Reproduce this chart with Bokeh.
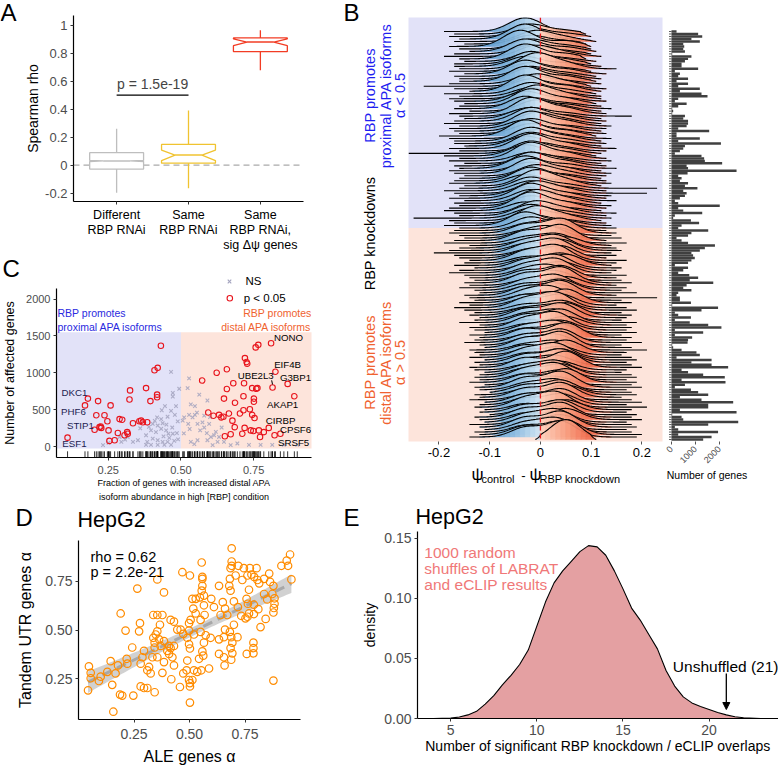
import math
import numpy as np
from bokeh.plotting import figure
from bokeh.layouts import row, column
from bokeh.models import Label, Span, Arrow, NormalHead, NumeralTickFormatter
from bokeh.embed import file_html
from bokeh.resources import INLINE

FONT = "Liberation Sans"

# ---------------- Panel A data ----------------
A_GROUPS = ["Different\nRBP RNAi", "Same\nRBP RNAi", "Same\nRBP RNAi,\nsig \u0394\u03c8 genes"]
A_WHISK_LO = [-0.197, -0.166, 0.678]
A_Q1 = [-0.028, 0.014, 0.812]
A_NOTCH_LO = [0.026, 0.033, 0.854]
A_MEDIAN = [0.030, 0.072, 0.880]
A_NOTCH_HI = [0.034, 0.108, 0.903]
A_Q3 = [0.089, 0.148, 0.910]
A_WHISK_HI = [0.260, 0.390, 0.965]
A_SIG_GROUPS = [1, 2]
A_SIG_Y = 0.5
A_SIG_TEXT = "p = 1.5e-19"
A_YTICKS = [-0.2, 0, 0.2, 0.4, 0.6, 0.8, 1]
A_YTICK_LABELS = ["-0.2", "0", "0.2", "0.4", "0.6", "0.8", "1"]

# ---------------- Panel B data (rows listed top -> bottom) ----------------
N_PROX = 80  # rows with alpha < 0.5 (top block)
RIDGE_LO_PCT = [
    -19, -17, -18, -16, -17, -15, -18, -16, -14, -17, -19, -16, -15, -17, -17, -16, -18, -15, -17, -16,
    -16, -18, -23, -17, -14, -19, -16, -18, -17, -15, -16, -17, -14, -18, -16, -15, -17, -19, -16, -18,
    -17, -16, -20, -18, -17, -17, -15, -18, -16, -26, -19, -16, -18, -15, -17, -16, -18, -17, -15, -16,
    -17, -18, -15, -16, -19, -17, -16, -18, -15, -17, -16, -18, -19, -17, -16, -25, -18, -17, -19, -16,
    -17, -18, -16, -15, -17, -19, -14, -16, -18, -21, -17, -16, -14, -15, -17, -13, -16, -18, -15, -14,
    -13, -15, -14, -16, -13, -12, -15, -14, -13, -16, -14, -17, -15, -13, -14, -12, -13, -16, -12, -14,
    -13, -11, -14, -12, -13, -15, -12, -11, -14, -13, -12, -14, -11, -13, -12, -14, -13, -11, -12, -13,
    -12, -14, -11, -13, -12, -10, -13, -12, -14, -11, -12, -13, -11, -12, -10, -13, -12, -11, -14, -12,
    -11, -13, -12, -14, -1]
RIDGE_HI_PCT = [
    8, 9, 10, 8, 11, 9, 10, 10, 11, 10, 12, 9, 11, 10, 12, 15, 10, 13, 11, 12,
    11, 12, 10, 13, 12, 11, 12, 12, 13, 11, 12, 14, 12, 13, 18, 12, 13, 12, 14, 13,
    12, 13, 11, 14, 12, 13, 12, 15, 13, 12, 11, 13, 14, 12, 13, 15, 12, 14, 13, 12,
    13, 14, 12, 23, 13, 21, 14, 13, 15, 12, 14, 13, 12, 15, 13, 14, 12, 13, 14, 15,
    13, 15, 14, 16, 13, 17, 14, 15, 16, 14, 15, 13, 17, 15, 14, 16, 15, 14, 17, 15,
    16, 18, 15, 17, 16, 19, 15, 23, 16, 18, 15, 17, 19, 16, 18, 17, 16, 19, 17, 18,
    17, 19, 16, 18, 17, 20, 16, 18, 21, 17, 16, 18, 19, 17, 18, 20, 17, 16, 18, 19,
    17, 19, 18, 20, 17, 18, 19, 16, 18, 20, 17, 21, 18, 17, 19, 18, 20, 17, 18, 19,
    17, 18, 20, 19, 11]
RIDGE_MODE_PCT = [
    -3, -2, -2, -3, -1, -2, -4, -2, -3, -2, -1, -3, -2, -2, -3, -1, -2, -3, -2, -2,
    -3, -2, -1, -2, -3, -2, -2, -1, -3, -2, -2, -3, -1, -2, -2, -3, -2, -1, -2, -3,
    -2, -2, -3, -1, -2, -2, -3, -2, -1, -2, -3, -2, -2, -1, -2, -3, -2, -2, -1, -2,
    -2, -3, -1, -2, -2, -1, -3, -2, -2, -1, -2, -2, -3, -1, -2, -2, -1, -2, -3, -2,
    3, 4, 3, 2, 4, 3, 5, 3, 4, 3, 2, 4, 3, 4, 5, 3, 4, 3, 2, 4,
    3, 4, 5, 3, 4, 3, 4, 2, 3, 5, 4, 3, 4, 3, 5, 4, 3, 4, 5, 3,
    4, 3, 4, 5, 3, 4, 3, 4, 3, 5, 4, 3, 4, 4, 3, 5, 4, 3, 4, 3,
    4, 5, 3, 4, 3, 4, 5, 4, 3, 4, 4, 3, 5, 4, 3, 4, 5, 3, 4, 4,
    3, 4, 5, 4, 5]
RIDGE_HEIGHT = [
    5.5, 4.0, 3.5, 6.0, 4.5, 3.5, 6.5, 4.0, 5.0, 3.5, 4.5, 6.0, 3.5, 5.0, 4.0, 6.5, 3.5, 5.5, 4.0, 4.5,
    6.0, 3.5, 5.0, 4.0, 6.5, 4.5, 3.5, 5.5, 4.0, 6.0, 3.5, 5.0, 4.5, 6.5, 3.5, 4.0, 5.5, 4.5, 6.0, 3.5,
    5.0, 4.0, 6.5, 3.5, 5.5, 4.5, 4.0, 6.0, 3.5, 5.0, 4.5, 6.5, 3.5, 4.0, 5.5, 5.0, 3.5, 6.0, 4.5, 4.0,
    5.5, 3.5, 6.5, 4.5, 4.0, 5.0, 3.5, 6.0, 4.5, 5.5, 4.0, 6.5, 3.5, 5.0, 4.5, 4.0, 6.0, 3.5, 5.5, 4.5,
    4.5, 6.0, 3.5, 5.0, 6.5, 4.0, 3.5, 5.5, 4.5, 6.0, 3.5, 5.0, 6.5, 4.0, 4.5, 5.5, 3.5, 6.0, 4.5, 5.0,
    4.0, 6.5, 3.5, 5.5, 4.5, 4.0, 6.0, 5.0, 3.5, 5.5, 4.5, 6.5, 4.0, 3.5, 5.0, 6.0, 4.5, 5.5, 3.5, 6.5,
    4.0, 5.0, 4.5, 6.0, 3.5, 5.5, 4.5, 6.5, 4.0, 5.0, 3.5, 6.0, 4.5, 5.5, 4.0, 6.5, 3.5, 5.0, 4.5, 6.0,
    4.0, 5.5, 3.5, 6.5, 4.5, 5.0, 4.0, 6.0, 3.5, 5.5, 4.5, 6.5, 4.0, 5.0, 3.5, 6.0, 4.5, 5.5, 4.0, 6.5,
    5.0, 4.5, 6.0, 6.5, 8.0]
GENE_COUNTS = [
    210, 1110, 1280, 830, 1180, 490, 530, 490, 560, 30, 830, 690, 560, 420, 420, 1110, 140, 350, 280, 690,
    210, 690, 280, 1180, 350, 1250, 1500, 280, 140, 630, 280, 30, 70, 30, 560, 490, 690, 690, 630, 280,
    1570, 210, 210, 1180, 280, 2060, 560, 490, 350, 140, 1250, 1360, 1390, 2110, 630, 690,
    2710, 670, 280, 420, 350, 690, 560, 1080, 490, 630, 560, 350, 140, 280, 2010, 280, 490, 1280, 140, 70,
    810, 1150, 420, 280, 1530, 830, 690, 210, 420, 690, 1810, 1390, 1180, 830, 900, 970, 830, 690, 140, 690,
    490, 280, 740, 1110, 760, 1740, 630, 490, 830, 280, 210, 350, 350, 810, 30, 1940,
    1250, 140, 280, 810, 140, 760, 1530, 2080, 140, 1320, 140, 860, 690, 670, 30, 70, 420, 1040, 1180, 210,
    1670, 830, 1670, 2360, 420, 690, 1320, 2220, 420, 2250, 560, 140, 810, 1110, 1530, 350, 1250, 2570, 1530, 1530,
    350, 2710, 30, 420, 490, 2780, 1530, 140, 280, 1940, 280, 1670, 1320]
B_XTICKS = [-0.2, -0.1, 0, 0.1, 0.2]
B_XTICK_LABELS = ["-0.2", "-0.1", "0", "0.1", "0.2"]
H_XTICKS = [0, 1000, 2000]

# ---------------- Panel C data ----------------
C_SIG_X = [0.431, 0.409, 0.420, 0.325, 0.380, 0.418, 0.418, 0.395, 0.323, 0.180,
           0.215, 0.258, 0.209, 0.237, 0.289, 0.298, 0.247, 0.335, 0.357, 0.363,
           0.369, 0.384, 0.224, 0.226, 0.220, 0.203, 0.251, 0.283, 0.315, 0.317,
           0.306, 0.254, 0.272, 0.110, 0.170,
           0.810, 0.766, 0.757, 0.720, 0.726, 0.728, 0.658, 0.623, 0.573, 0.825,
           0.680, 0.717, 0.745, 0.759, 0.763, 0.815, 0.867, 0.658, 0.715, 0.751,
           0.751, 0.686, 0.648, 0.890, 0.594, 0.612, 0.631, 0.639, 0.646, 0.665,
           0.677, 0.703, 0.715, 0.745, 0.737, 0.753, 0.685, 0.719, 0.740, 0.749,
           0.768, 0.785, 0.802, 0.842, 0.822, 0.711, 0.671, 0.651, 0.772]
C_SIG_Y = [1367, 1036, 1068, 763, 794, 705, 670, 618, 639, 652,
           618, 560, 427, 427, 374, 366, 344, 318, 344, 353,
           331, 331, 274, 255, 265, 229, 221, 185, 198, 176,
           155, 79, 88, 123, 560,
           1402, 1380, 1345, 1200, 1147, 1125, 1049, 1001, 896, 1015,
           860, 860, 794, 785, 794, 803, 851, 781, 684, 652,
           609, 595, 652, 684, 463, 419, 432, 397, 406, 450,
           353, 450, 494, 432, 507, 388, 265, 255, 221, 212,
           221, 198, 255, 176, 155, 176, 168, 141, 132]
C_NS_X = [0.494, 0.472, 0.472, 0.445, 0.483, 0.434, 0.466, 0.418, 0.432, 0.454,
          0.479, 0.489, 0.403, 0.420, 0.437, 0.397, 0.414, 0.432, 0.449, 0.457,
          0.472, 0.486, 0.403, 0.420, 0.437, 0.454, 0.477, 0.380, 0.384, 0.352,
          0.335, 0.317, 0.308, 0.289, 0.232, 0.251, 0.295, 0.380, 0.397, 0.420,
          0.443, 0.466, 0.466, 0.360, 0.390, 0.450, 0.470, 0.410, 0.440, 0.460,
          0.528, 0.523, 0.534, 0.548, 0.555, 0.548, 0.540, 0.528, 0.511, 0.506,
          0.525, 0.557, 0.574, 0.597, 0.566, 0.589, 0.603, 0.614, 0.631, 0.591,
          0.626, 0.609, 0.557, 0.534, 0.546, 0.648, 0.671, 0.694, 0.734, 0.774,
          0.814, 0.854, 0.900, 0.563, 0.591, 0.490, 0.510, 0.530, 0.580, 0.620,
          0.600, 0.580, 0.640]
C_NS_Y = [785, 728, 680, 551, 551, 494, 485, 397, 375, 406,
          432, 344, 309, 287, 318, 221, 198, 243, 221, 176,
          176, 185, 110, 88, 66, 66, 79, 155, 66, 88,
          66, 132, 97, 132, 22, 53, 66, 26, 26, 26,
          26, 26, 1015, 250, 270, 300, 260, 350, 140, 120,
          926, 794, 573, 551, 463, 432, 397, 432, 397, 353,
          309, 309, 331, 309, 221, 185, 132, 155, 132, 88,
          66, 22, 88, 66, 35, 66, 22, 44, 26, 26,
          26, 26, 26, 705, 626, 100, 180, 240, 260, 200,
          400, 420, 260]
C_ALPHA_SPLIT = 0.5
C_SHADE_TOP = 1550
C_YTICKS = [0, 500, 1000, 1500, 2000]
C_XTICKS = [0.25, 0.5, 0.75]
# gene label: (name, point x, point y)
C_GENES_RIGHT = [("NONO", 0.810, 1402), ("EIF4B", 0.825, 1015), ("UBE2L3", 0.815, 803),
                 ("G3BP1", 0.867, 851), ("AKAP1", 0.890, 684), ("CIRBP", 0.802, 255),
                 ("CPSF6", 0.842, 176), ("SRSF5", 0.822, 155)]
C_GENES_LEFT = [("DKC1", 0.180, 652), ("PHF6", 0.170, 560), ("STIP1", 0.224, 265), ("ESF1", 0.110, 123)]

# ---------------- Panel D data ----------------
D_ALE = [0.690, 0.953, 0.938, 0.944, 0.914, 0.959, 0.690, 0.690, 0.685, 0.720,
         0.745, 0.772, 0.802, 0.708, 0.682, 0.679, 0.685, 0.738, 0.761, 0.779,
         0.791, 0.806, 0.814, 0.836, 0.859, 0.863, 0.878, 0.873, 0.850, 0.883,
         0.836, 0.883, 0.880, 0.878, 0.843, 0.790, 0.768, 0.757, 0.763, 0.810,
         0.820, 0.768, 0.761, 0.752, 0.790, 0.758, 0.788, 0.788, 0.788, 0.878,
         0.733, 0.718, 0.700, 0.700, 0.716, 0.682, 0.688, 0.693, 0.685, 0.693,
         0.688, 0.670, 0.660, 0.655, 0.640, 0.660, 0.650, 0.655, 0.633, 0.658,
         0.633, 0.595, 0.633, 0.565, 0.568, 0.550, 0.550, 0.573, 0.565, 0.558,
         0.562, 0.543, 0.490, 0.520, 0.513, 0.520, 0.490, 0.558, 0.558, 0.555,
         0.558, 0.555, 0.547, 0.565, 0.513, 0.528, 0.517, 0.528, 0.498, 0.498,
         0.505, 0.468, 0.502, 0.460, 0.430, 0.445, 0.472, 0.415, 0.385, 0.355,
         0.265, 0.378, 0.355, 0.337, 0.367, 0.355, 0.348, 0.337, 0.343, 0.363,
         0.385, 0.408, 0.400, 0.408, 0.415, 0.430, 0.423, 0.370, 0.343, 0.355,
         0.333, 0.378, 0.418, 0.457, 0.385, 0.430, 0.318, 0.325, 0.310, 0.288,
         0.280, 0.295, 0.242, 0.273, 0.277, 0.190, 0.212, 0.217, 0.220, 0.178,
         0.167, 0.130, 0.055, 0.100, 0.043, 0.055, 0.047, 0.092, 0.145, 0.152,
         0.197, 0.247, 0.280, 0.295, 0.310, 0.343, 0.157, 0.187, 0.498, 0.502,
         0.502, 0.502, 0.472, 0.487, 0.535, 0.553, 0.588, 0.498, 0.502, 0.598,
         0.610]
D_TANDEM = [0.920, 0.888, 0.857, 0.830, 0.830, 0.760, 0.852, 0.830, 0.818, 0.830,
            0.818, 0.818, 0.818, 0.780, 0.763, 0.727, 0.702, 0.757, 0.780, 0.785,
            0.773, 0.757, 0.740, 0.763, 0.790, 0.747, 0.727, 0.685, 0.657, 0.663,
            0.685, 0.635, 0.613, 0.590, 0.557, 0.630, 0.707, 0.660, 0.635, 0.607,
            0.515, 0.585, 0.568, 0.560, 0.582, 0.377, 0.435, 0.407, 0.380, 0.240,
            0.573, 0.618, 0.647, 0.527, 0.463, 0.490, 0.463, 0.435, 0.407, 0.380,
            0.347, 0.577, 0.502, 0.463, 0.577, 0.610, 0.643, 0.360, 0.377, 0.318,
            0.452, 0.460, 0.727, 0.627, 0.577, 0.552, 0.490, 0.473, 0.435, 0.390,
            0.368, 0.352, 0.343, 0.293, 0.243, 0.477, 0.460, 0.773, 0.763, 0.847,
            0.727, 0.702, 0.668, 0.677, 0.660, 0.660, 0.610, 0.585, 0.535, 0.497,
            0.552, 0.797, 0.780, 0.502, 0.543, 0.502, 0.480, 0.552, 0.693, 0.760,
            0.713, 0.577, 0.577, 0.577, 0.527, 0.493, 0.477, 0.460, 0.435, 0.452,
            0.443, 0.418, 0.393, 0.377, 0.407, 0.418, 0.360, 0.418, 0.410, 0.360,
            0.360, 0.280, 0.247, 0.207, 0.335, 0.318, 0.310, 0.277, 0.293, 0.360,
            0.327, 0.393, 0.410, 0.493, 0.535, 0.585, 0.497, 0.352, 0.327, 0.318,
            0.277, 0.285, 0.280, 0.260, 0.190, 0.252, 0.313, 0.238, 0.340, 0.218,
            0.163, 0.163, 0.210, 0.202, 0.202, 0.180, 0.080, 0.168, 0.243, 0.227,
            0.210, 0.127, 0.277, 0.293, 0.285, 0.293, 0.302, 0.427, 0.405, 0.660,
            0.618]
D_TICKS = [0.25, 0.5, 0.75]
D_STATS = ["rho = 0.62", "p = 2.2e-21"]

# ---------------- Panel E data ----------------
E_X = [4.0, 5.0, 5.5, 6.0, 6.5, 7.0, 7.5, 8.0, 8.5, 9.0, 9.5, 10.0, 10.5, 11.0, 11.5, 12.0, 12.5,
       13.0, 13.5, 14.0, 14.5, 15.0, 15.5, 16.0, 16.5, 17.0, 17.5, 18.0, 18.5, 19.0, 19.5, 20.0,
       20.5, 21.0, 21.5, 22.0, 23.0]
E_DENSITY = [0.0, 0.0003, 0.0012, 0.003, 0.006, 0.012, 0.019, 0.028, 0.036, 0.045, 0.057, 0.077,
             0.097, 0.113, 0.123, 0.131, 0.139, 0.144, 0.143, 0.136, 0.123, 0.108, 0.092, 0.082,
             0.070, 0.058, 0.040, 0.027, 0.018, 0.013, 0.010, 0.0075, 0.005, 0.003, 0.0015, 0.0006, 0.0]
E_UNSHUFFLED = 21
E_XTICKS = [5, 10, 15, 20]
E_YTICKS = [0, 0.05, 0.10, 0.15]


# ---------------- layout helpers (all boxes in page pixels) ----------------
def make_fig(fig_box, frame_box, xr, yr, x_axis="below", y_axis="left"):
    fl, ft, fr, fb = fig_box
    l, t, r, b = frame_box
    p = figure(width=fr - fl, height=fb - ft, x_range=xr, y_range=yr,
               output_backend="svg", toolbar_location=None,
               x_axis_location=x_axis, y_axis_location=y_axis,
               min_border_left=l - fl, min_border_right=fr - r,
               min_border_top=t - ft, min_border_bottom=fb - b)
    if "frame_align" in p.properties():
        p.frame_align = False
    p.outline_line_color = None
    p.xgrid.visible = False
    p.ygrid.visible = False
    p.background_fill_color = "white"
    p.border_fill_color = "white"

    def to_data(x, y):
        dx = xr[0] + (x - l) / (r - l) * (xr[1] - xr[0])
        dy = yr[1] - (y - t) / (b - t) * (yr[1] - yr[0])
        return dx, dy
    return p, to_data


def text_fig(box):
    fl, ft, fr, fb = box
    return make_fig(box, box, (fl, fr), (fb, ft), x_axis=None, y_axis=None)


def label(p, m, x, y, text, size, color="black", align="left", baseline="middle", angle=0.0):
    dx, dy = m(x, y)
    p.add_layout(Label(x=dx, y=dy, text=text, text_font=FONT, text_font_size=f"{size}px",
                       text_color=color, text_align=align, text_baseline=baseline, angle=angle))


def letter(p, m, x, y, text):
    label(p, m, x, y, text, 24)


def style_axes(p, tick_px, label_px, tick_color="#4D4D4D", line=True):
    for ax in p.axis:
        ax.axis_line_color = "black" if line else None
        ax.axis_line_width = 1.2
        ax.major_tick_line_color = "#333333"
        ax.major_tick_out = 3
        ax.major_tick_in = 0
        ax.minor_tick_line_color = None
        ax.major_label_text_font = FONT
        ax.major_label_text_font_size = f"{tick_px}px"
        ax.major_label_text_color = tick_color
        ax.major_label_standoff = 3
        ax.axis_label_text_font = FONT
        ax.axis_label_text_font_size = f"{label_px}px"
        ax.axis_label_text_font_style = "normal"
        ax.axis_label_text_color = "black"
        ax.axis_label_standoff = 4


# ================= Panel A =================
sA, tA = text_fig((0, 0, 22, 255))
letter(sA, tA, 0, 12, "A")
pA, mA = make_fig((22, 0, 340, 255), (70, 15, 303, 204), (0.4, 3.6), (-0.26, 1.07))
style_axes(pA, 13, 14)
pA.yaxis.axis_label_standoff = 1
pA.xaxis.ticker = [1, 2, 3]
pA.xaxis.major_label_overrides = {i + 1: g for i, g in enumerate(A_GROUPS)}
pA.xaxis.major_label_text_color = "black"
pA.xaxis.major_label_text_font_size = "12.5px"
pA.xaxis.major_label_text_line_height = 1.1
pA.yaxis.ticker = A_YTICKS
pA.yaxis.major_label_overrides = dict(zip(A_YTICKS, A_YTICK_LABELS))
pA.yaxis.axis_label = "Spearman rho"
pA.add_layout(Span(location=0, dimension="width", line_color="#AAAAAA", line_dash="6 4",
                   line_width=1.2, level="underlay"))
A_COLORS = ["#BEBEBE", "#F0C330", "#F23C24"]
half_w, notch_w = 0.375, 0.5
for i in range(3):
    xc = i + 1
    xs = [xc - half_w, xc - half_w, xc - half_w * notch_w, xc - half_w, xc - half_w,
          xc + half_w, xc + half_w, xc + half_w * notch_w, xc + half_w, xc + half_w]
    ys = [A_Q1[i], A_NOTCH_LO[i], A_MEDIAN[i], A_NOTCH_HI[i], A_Q3[i],
          A_Q3[i], A_NOTCH_HI[i], A_MEDIAN[i], A_NOTCH_LO[i], A_Q1[i]]
    pA.patch(xs, ys, fill_color="white", line_color=A_COLORS[i], line_width=1.3)
    pA.segment(x0=[xc, xc], y0=[A_Q3[i], A_WHISK_LO[i]], x1=[xc, xc], y1=[A_WHISK_HI[i], A_Q1[i]],
               line_color=A_COLORS[i], line_width=1.3)
    pA.segment(x0=[xc - half_w * notch_w], y0=[A_MEDIAN[i]], x1=[xc + half_w * notch_w], y1=[A_MEDIAN[i]],
               line_color=A_COLORS[i], line_width=1.6)
pA.segment(x0=[A_SIG_GROUPS[0]], y0=[A_SIG_Y], x1=[A_SIG_GROUPS[1]], y1=[A_SIG_Y], line_color="black", line_width=1.2)
pA.add_layout(Label(x=sum(A_SIG_GROUPS) / 2, y=A_SIG_Y + 0.025, text=A_SIG_TEXT, text_font=FONT,
                    text_font_size="14px", text_align="center", text_baseline="bottom"))

# ================= Panel C =================
sC, tC = text_fig((0, 255, 340, 288))
letter(sC, tC, 2, 268, "C")
sC.scatter([229], [281], marker="x", size=5, line_color="#A3A3BE", line_width=1.1)
label(sC, tC, 245, 280.5, "NS", 11.5)
C_YR = (-146, 2143)
pC, mC = make_fig((0, 288, 340, 505), (55, 288, 311, 461), (0.072, 0.949), C_YR)
style_axes(pC, 11, 12.5)
pC.yaxis.axis_label_standoff = 6
pC.xaxis.major_label_standoff = 5
pC.xaxis.ticker = C_XTICKS
pC.xaxis.formatter = NumeralTickFormatter(format="0.00")
pC.yaxis.ticker = C_YTICKS
pC.yaxis.axis_label = "Number of affected genes"
pC.xaxis.axis_label = "Fraction of genes with increased distal APA\nisoform abundance in high [RBP] condition"
pC.xaxis.axis_label_text_font_size = "9px"
pC.xaxis.axis_label_text_line_height = 1.45
pC.xaxis.axis_label_standoff = 1
pC.quad(left=[-1], right=[C_ALPHA_SPLIT], bottom=[-25], top=[C_SHADE_TOP], fill_color="#E2E2F8", line_color=None)
pC.quad(left=[C_ALPHA_SPLIT], right=[2], bottom=[-25], top=[C_SHADE_TOP], fill_color="#FDE4DB", line_color=None)
all_x = C_SIG_X + C_NS_X
pC.segment(x0=all_x, y0=[C_YR[0]] * len(all_x), x1=all_x, y1=[-62] * len(all_x), line_color="black", line_width=0.8)
pC.scatter(C_NS_X, C_NS_Y, marker="x", size=5, line_color="#A3A3BE", line_width=1.1, line_alpha=0.85)
pC.scatter(C_SIG_X, C_SIG_Y, marker="circle", size=5.5, line_color="#E8141C", fill_color=None, line_width=1.1)
lx, ly2 = mC(229, 298)
pC.scatter([lx], [ly2], marker="circle", size=5.5, line_color="#E8141C", fill_color=None, line_width=1.1)
label(pC, mC, 243, 297.5, "p < 0.05", 11.5)
label(pC, mC, 56, 313, "RBP promotes", 10.5, color="#2A2AE0")
label(pC, mC, 56, 327, "proximal APA isoforms", 10.5, color="#2A2AE0")
label(pC, mC, 311, 313, "RBP promotes", 10.5, color="#F0622F", align="right")
label(pC, mC, 311, 327, "distal APA isoforms", 10.5, color="#F0622F", align="right")
gene_pos_right = {"NONO": (288, 338), "EIF4B": (287, 366), "UBE2L3": (255, 377), "G3BP1": (295, 379),
                  "AKAP1": (282, 407), "CIRBP": (280, 423), "CPSF6": (295, 432), "SRSF5": (293, 446)}
gene_pos_left = {"DKC1": (73, 394), "PHF6": (72, 414), "STIP1": (79, 428), "ESF1": (73, 447)}
for name, gx, gy in C_GENES_RIGHT:
    tx, ty = gene_pos_right[name]
    label(pC, mC, tx, ty, name, 9.7, color="black", align="center")
for name, gx, gy in C_GENES_LEFT:
    tx, ty = gene_pos_left[name]
    label(pC, mC, tx, ty, name, 9.7, color="#1C1C50", align="center")
ux, uy = mC(271, 382)
pC.segment(x0=[ux], y0=[uy], x1=[C_GENES_RIGHT[2][1]], y1=[C_GENES_RIGHT[2][2] + 40], line_color="black", line_width=1)

# ================= Panel B (ridges) =================
N = len(GENE_COUNTS)
B_YR = (0.196, 170.63)
sB, tB = text_fig((340, 0, 408, 505))
letter(sB, tB, 343, 11.5, "B")
BLUE, ORANGE = "#1F1FF0", "#F0622F"
for txt, xx in (("RBP promotes", 369), ("proximal APA isoforms", 385), ("\u03b1 < 0.5", 399)):
    label(sB, tB, xx, 95, txt, 14.5, color=BLUE, align="center", angle=math.pi / 2)
label(sB, tB, 369, 233, "RBP knockdowns", 14.5, align="center", angle=math.pi / 2)
for txt, xx in (("RBP promotes", 369), ("distal APA isoforms", 385), ("\u03b1 > 0.5", 399)):
    label(sB, tB, xx, 362, txt, 14.5, color=ORANGE, align="center", angle=math.pi / 2)

pB, mB = make_fig((408, 0, 665, 463), (408, 17, 662, 441), (-0.26, 0.2406), B_YR, y_axis=None)
style_axes(pB, 13, 12, tick_color="black", line=False)
pB.xaxis.ticker = B_XTICKS
pB.xaxis.major_label_overrides = dict(zip(B_XTICKS, B_XTICK_LABELS))
pB.xaxis.major_tick_line_color = "#555555"
boundary = N - N_PROX + 1
pB.quad(left=[-1], right=[1], bottom=[boundary], top=[200], fill_color="#E2E2F8", line_color=None)
pB.quad(left=[-1], right=[1], bottom=[-10], top=[boundary], fill_color="#FDE4DB", line_color=None)

PAL_X = [-0.25, -0.12, -0.05, -0.0001, 0.0001, 0.05, 0.10, 0.25]
PAL_C = ["#2C6AAE", "#4A8DC6", "#8DBCE0", "#D2E5F3", "#FDD3C0", "#F8A184", "#EF6B4B", "#D6281F"]


def hex2rgb(h):
    return tuple(int(h[k:k + 2], 16) for k in (1, 3, 5))


def pal_color(x):
    if x <= PAL_X[0]:
        return PAL_C[0]
    if x >= PAL_X[-1]:
        return PAL_C[-1]
    for j in range(len(PAL_X) - 1):
        if PAL_X[j] <= x <= PAL_X[j + 1]:
            t = (x - PAL_X[j]) / (PAL_X[j + 1] - PAL_X[j])
            c0, c1 = hex2rgb(PAL_C[j]), hex2rgb(PAL_C[j + 1])
            return "#%02x%02x%02x" % tuple(int(round(a + (b - a) * t)) for a, b in zip(c0, c1))


PROX_SD, PROX_BUMP = 0.032, (0.05, 0.03, 0.35)
DIST_SD, DIST_BUMP = 0.030, (-0.03, 0.028, 0.6)


def ridge_shape(x, lo, hi, m, prox):
    s, (bl, bs, bw) = (PROX_SD, PROX_BUMP) if prox else (DIST_SD, DIST_BUMP)
    f = np.exp(-0.5 * ((x - m) / s) ** 2)
    if lo < bl - 0.03 and hi > bl + 0.03:
        f = f + bw * np.exp(-0.5 * ((x - bl) / bs) ** 2)
    taper = np.clip(np.minimum(x - lo, hi - x) / 0.012, 0, 1)
    f = f * taper
    return f / f.max()


STRIP = 0.01
for i in range(N):
    lo, hi, md, h = RIDGE_LO_PCT[i] / 100, RIDGE_HI_PCT[i] / 100, RIDGE_MODE_PCT[i] / 100, RIDGE_HEIGHT[i]
    base = N - i
    xg = np.linspace(lo, hi, int((hi - lo) / 0.002) + 2)
    fg = ridge_shape(xg, lo, hi, md, i < N_PROX) * h
    edges = np.arange(math.floor(lo / STRIP) * STRIP, hi + STRIP, STRIP)
    pxs, pys, cols = [], [], []
    for a, b in zip(edges[:-1], edges[1:]):
        a, b = max(a, lo), min(b, hi)
        if b - a < 1e-6:
            continue
        sub = np.linspace(a, b, 5)
        fv = np.interp(sub, xg, fg)
        if fv.max() < 0.05:
            continue
        pxs.append([a] + list(sub) + [b])
        pys.append([base] + list(base + fv) + [base])
        cols.append(pal_color((a + b) / 2))
    if pxs:
        pB.patches(pxs, pys, fill_color=cols, line_color=cols, line_width=0.5, fill_alpha=0.92, line_alpha=0.92)
    pB.line(list(xg), list(base + fg), line_color="black", line_width=1.1)
pB.add_layout(Span(location=0, dimension="height", line_color="#E41A1C", line_dash="5 3", line_width=1.3))

sBx, tBx = text_fig((408, 463, 665, 505))
label(sBx, tBx, 471, 474, "\u03c8", 17)
label(sBx, tBx, 481, 478, "control", 11)
label(sBx, tBx, 523, 475, "-", 13, align="center")
label(sBx, tBx, 529, 474, "\u03c8", 17)
label(sBx, tBx, 539, 478, "RBP knockdown", 11)

# ================= Histogram next to B =================
pH, mH = make_fig((665, 0, 778, 505), (668, 17, 745, 441), (-125, 3083), B_YR, y_axis=None)
style_axes(pH, 9, 10.5, line=False)
pH.xaxis.ticker = H_XTICKS
pH.xaxis.major_label_orientation = math.pi / 4
pH.xaxis.major_tick_line_color = "#555555"
pH.xaxis.axis_label = "Number of genes"
pH.xaxis.axis_label_standoff = 0
positions = [N - i for i in range(N)]
pH.hbar(y=positions, left=0, right=GENE_COUNTS, height=1.0, fill_color="#404040", line_color=None)
tick_x0, _ = mH(668.5, 0)
pH.segment(x0=[tick_x0] * N, y0=positions, x1=[0] * N, y1=positions, line_color="#333333", line_width=0.8)

# ================= Panel D =================
sD, tD = text_fig((0, 505, 340, 537))
letter(sD, tD, 15, 516.5, "D")
label(sD, tD, 77, 519.5, "HepG2", 21.5)
pD, mD = make_fig((0, 537, 340, 767), (78, 540, 300, 724), (0.0, 1.0), (0.04, 0.96))
style_axes(pD, 14, 16)
pD.xaxis.ticker = D_TICKS
pD.yaxis.ticker = D_TICKS
pD.xaxis.formatter = NumeralTickFormatter(format="0.00")
pD.yaxis.formatter = NumeralTickFormatter(format="0.00")
pD.xaxis.axis_label = "ALE genes \u03b1"
pD.yaxis.axis_label = "Tandem UTR genes \u03b1"
pD.xaxis.major_label_standoff = 6
pD.xaxis.axis_label_standoff = 6
pD.yaxis.axis_label_standoff = 8
dx = np.array(D_ALE)
dy = np.array(D_TANDEM)
b1, b0 = np.polyfit(dx, dy, 1)
nD = len(dx)
resid = dy - (b0 + b1 * dx)
s_res = math.sqrt(float(np.sum(resid ** 2)) / (nD - 2))
sxx = float(np.sum((dx - dx.mean()) ** 2))
xl = np.linspace(dx.min(), dx.max(), 80)
yhat = b0 + b1 * xl
se = s_res * np.sqrt(1 / nD + (xl - dx.mean()) ** 2 / sxx)
pD.varea(x=list(xl), y1=list(yhat - 1.97 * se), y2=list(yhat + 1.97 * se), fill_color="#BDBDBD", fill_alpha=0.7)
pD.line(list(xl), list(yhat), line_color="#A8A8A8", line_width=3, line_dash="10 6")
pD.scatter(D_ALE, D_TANDEM, marker="circle", size=7.5, line_color="#FF8C00", fill_color=None, line_width=1.2)
label(pD, mD, 90, 557, D_STATS[0], 14.5)
label(pD, mD, 90, 572, D_STATS[1], 14.5)

# ================= Panel E =================
sEl, tEl = text_fig((340, 505, 359, 767))
letter(sEl, tEl, 343, 516.5, "E")
sEt, tEt = text_fig((359, 505, 778, 531))
label(sEt, tEt, 415, 516.5, "HepG2", 21.5)
pE, mE = make_fig((359, 531, 778, 767), (409, 531, 778, 718), (3.07, 24.03), (0.0, 0.1558))
style_axes(pE, 14, 14)
pE.xaxis.ticker = E_XTICKS
pE.yaxis.ticker = E_YTICKS
pE.yaxis.formatter = NumeralTickFormatter(format="0.00")
pE.xaxis.axis_label = "Number of significant RBP knockdown / eCLIP overlaps"
pE.yaxis.axis_label = "density"
pE.xaxis.axis_label_standoff = 0
pE.yaxis.axis_label_standoff = 3
pE.varea(x=E_X, y1=[0] * len(E_X), y2=E_DENSITY, fill_color="#E4A0A2")
pE.line(E_X, E_DENSITY, line_color="black", line_width=1.1)
for txt, yy in (("1000 random", 552), ("shuffles of LABRAT", 568), ("and eCLIP results", 584)):
    label(pE, mE, 416, yy, txt, 15.5, color="#F07878")
label(pE, mE, 724, 666, "Unshuffled (21)", 15.5, align="center")
_, ay0 = mE(0, 673)
_, ay1 = mE(0, 709)
pE.add_layout(Arrow(end=NormalHead(size=7, fill_color="black", line_color="black"),
                    x_start=E_UNSHUFFLED, y_start=ay0, x_end=E_UNSHUFFLED, y_end=ay1,
                    line_color="black", line_width=1.3))

layout = column(
    row(column(row(sA, pA), sC, pC), sB, column(pB, sBx), pH),
    row(column(sD, pD), sEl, column(sEt, pE)),
)
open("out.html", "w").write(file_html(layout, INLINE))
